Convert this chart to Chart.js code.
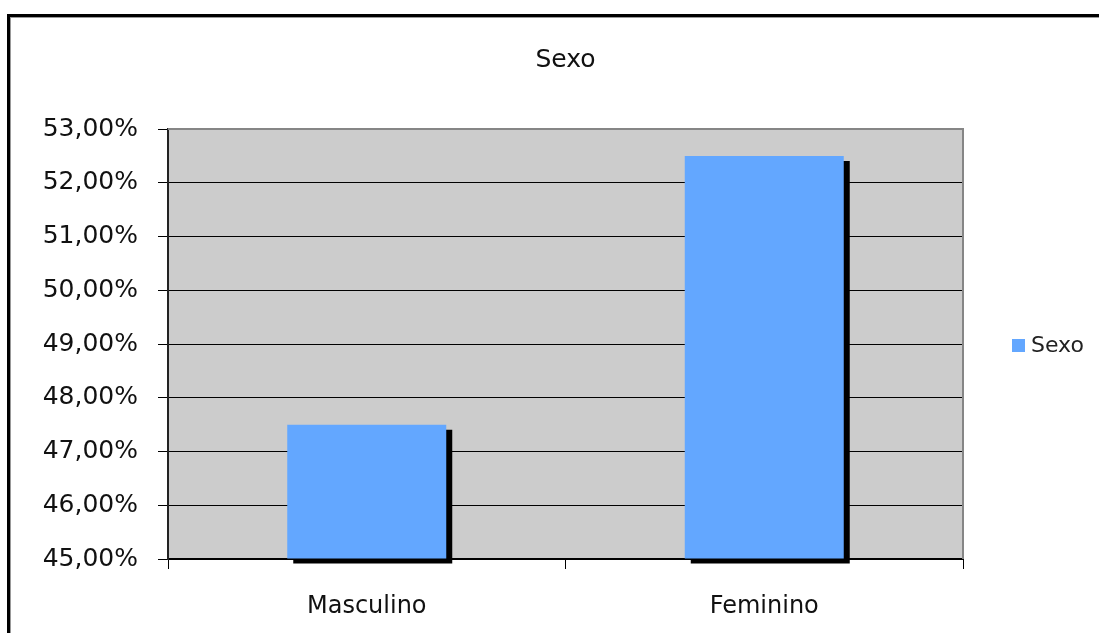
<!DOCTYPE html>
<html>
<head>
<meta charset="utf-8">
<script src="https://cdn.jsdelivr.net/npm/chart.js@4/dist/chart.umd.min.js"></script>
<style>
  html, body { margin: 0; padding: 0; background: #fff; overflow: hidden; }
  #wrap { width: 1099px; height: 633px; }
</style>
</head>
<body>
<div id="wrap"><canvas id="c" width="1099" height="633"></canvas></div>
<script>
// Chart data
const categories = ['Masculino', 'Feminino'];
const seriesName = 'Sexo';
const seriesValues = [47.5, 52.5];
const axisMin = 45;
const axisMax = 53;
const axisStep = 1;

const FONT = '"DejaVu Sans", Verdana, sans-serif';
const BAR_COLOR = '#63a7ff';

// Percentage label in Portuguese format: 47,50%
function pct(v) {
  return Number(v).toFixed(2).replace('.', ',') + '%';
}

// White page, outer frame and grey plot background
const backdrop = {
  id: 'backdrop',
  beforeDraw(chart) {
    const { ctx, chartArea: a, width, height } = chart;
    ctx.save();
    ctx.fillStyle = '#fff';
    ctx.fillRect(0, 0, width, height);
    ctx.fillStyle = '#000';
    ctx.fillRect(7, 14, 3, height - 14);
    ctx.fillRect(7, 14, width - 7, 3);
    ctx.fillStyle = '#999';
    ctx.fillRect(10, 17, 1, height - 17);
    ctx.fillRect(10, 17, width - 10, 1);
    ctx.fillStyle = '#cccccc';
    ctx.fillRect(a.left, a.top, a.right - a.left, a.bottom - a.top);
    ctx.restore();
  },
  beforeDatasetsDraw(chart) {
    const { ctx, chartArea: a } = chart;
    ctx.save();
    ctx.strokeStyle = '#868686';
    ctx.lineWidth = 2;
    ctx.beginPath();
    ctx.moveTo(a.left, a.top);
    ctx.lineTo(a.right, a.top);
    ctx.lineTo(a.right, a.bottom);
    ctx.stroke();
    ctx.restore();
  }
};

// Solid drop shadow behind the bars
const barShadow = {
  id: 'barShadow',
  beforeDatasetsDraw(chart) {
    const ctx = chart.ctx;
    ctx.save();
    ctx.shadowColor = '#000';
    ctx.shadowOffsetX = 6;
    ctx.shadowOffsetY = 5;
    ctx.shadowBlur = 0;
  },
  afterDatasetsDraw(chart) {
    chart.ctx.restore();
  }
};

// Chart title centred over the plot, legend at its right
const headings = {
  id: 'headings',
  afterDraw(chart) {
    const { ctx, chartArea: a } = chart;
    const ds = chart.data.datasets[0];
    ctx.save();
    ctx.fillStyle = '#111';
    ctx.font = '25px ' + FONT;
    ctx.textAlign = 'center';
    ctx.textBaseline = 'alphabetic';
    ctx.fillText(seriesName, (a.left + a.right) / 2, 67);

    ctx.fillStyle = ds.backgroundColor;
    ctx.fillRect(1012, 339, 13, 13);
    ctx.fillStyle = '#222';
    ctx.font = '22px ' + FONT;
    ctx.textBaseline = 'middle';
    ctx.textAlign = 'left';
    ctx.fillText(ds.label, 1031, 346);
    ctx.restore();
  }
};

new Chart(document.getElementById('c'), {
  type: 'bar',
  data: {
    labels: categories,
    datasets: [{
      label: seriesName,
      data: seriesValues,
      base: axisMin,
      backgroundColor: BAR_COLOR,
      borderWidth: 0,
      barPercentage: 0.4,
      categoryPercentage: 1.0,
      clip: false
    }]
  },
  options: {
    responsive: false,
    animation: false,
    devicePixelRatio: 1,
    layout: { padding: { left: 0, right: 136, top: 129, bottom: 0 } },
    plugins: {
      legend: { display: false },
      tooltip: { enabled: false },
      title: { display: false }
    },
    scales: {
      x: {
        grid: {
          offset: true,
          drawOnChartArea: false,
          drawTicks: true,
          tickLength: 10,
          tickColor: '#000',
          lineWidth: 1
        },
        border: { display: true, color: '#000', width: 2 },
        ticks: {
          color: '#111',
          padding: 23,
          font: { family: FONT, size: 24 }
        },
        afterFit(scale) { scale.height = 74; }
      },
      y: {
        min: axisMin,
        max: axisMax,
        grid: {
          color: (c) => (c.tick && c.tick.value === axisMax ? 'rgba(0,0,0,0)' : '#000'),
          tickColor: '#000',
          tickLength: 10,
          lineWidth: 1
        },
        border: { display: true, color: '#222', width: 2 },
        ticks: {
          stepSize: axisStep,
          color: '#111',
          padding: 20,
          font: { family: FONT, size: 25 },
          callback: (v) => pct(v)
        },
        afterFit(scale) { scale.width = 168; }
      }
    }
  },
  plugins: [backdrop, barShadow, headings]
});
</script>
</body>
</html>
